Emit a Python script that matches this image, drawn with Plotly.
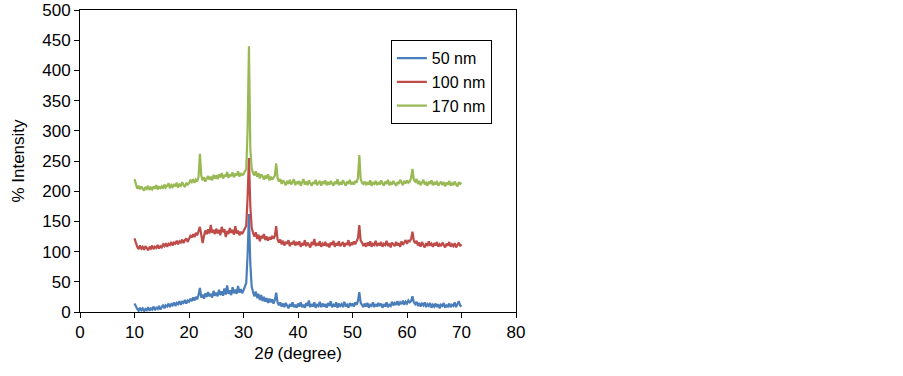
import plotly.graph_objects as go

two_theta = [round(10 + 0.25 * i, 2) for i in range(241)]

nm50 = [14, 9, 5, 2, 7, 3, 6, 1, 5, 3, 8, 2, 6, 4, 9, 3, 7, 5, 10, 4,
        8, 12, 6, 11, 9, 14, 8, 13, 11, 16, 10, 15, 13, 18, 12, 17, 15, 20, 14, 19,
        17, 22, 18, 24, 19, 25, 21, 28, 40, 24, 29, 22, 31, 25, 33, 26, 30, 24, 35, 27,
        32, 26, 37, 28, 34, 27, 39, 29, 44, 30, 36, 28, 41, 31, 37, 30, 43, 32, 38, 31,
        36, 42, 48, 95, 162, 80, 42, 33, 26, 34, 23, 30, 20, 28, 18, 25, 17, 23, 15, 22,
        16, 21, 14, 20, 32, 16, 11, 16, 9, 14, 8, 15, 10, 6, 13, 9, 16, 8, 12, 7,
        14, 9, 16, 8, 12, 7, 15, 10, 19, 8, 13, 9, 16, 7, 12, 10, 17, 8, 14, 9,
        13, 7, 15, 10, 18, 8, 12, 9, 16, 7, 14, 10, 13, 8, 17, 9, 12, 7, 15, 10,
        14, 9, 16, 12, 18, 33, 15, 12, 8, 14, 9, 15, 7, 12, 10, 16, 8, 13, 9, 15,
        10, 14, 7, 13, 9, 16, 8, 12, 10, 17, 11, 15, 12, 18, 11, 16, 13, 19, 12, 17,
        14, 19, 16, 18, 26, 16, 13, 17, 10, 15, 9, 14, 11, 16, 8, 13, 10, 15, 7, 12,
        9, 14, 8, 13, 6, 12, 10, 15, 7, 11, 9, 14, 8, 12, 10, 16, 8, 13, 18, 11,
        9]

nm100 = [122, 114, 108, 104, 110, 105, 108, 103, 109, 106, 102, 108, 105, 110, 104, 108, 106, 111, 105, 109,
         107, 112, 109, 114, 108, 113, 111, 116, 110, 115, 113, 118, 112, 117, 115, 120, 114, 119, 122, 116,
         121, 126, 123, 129, 124, 131, 127, 135, 141, 128, 114, 126, 135, 129, 137, 130, 144, 131, 136, 129,
         138, 130, 136, 127, 141, 132, 137, 124, 134, 129, 139, 131, 136, 128, 142, 130, 135, 127, 133, 129,
         134, 139, 143, 190, 255, 175, 140, 131, 125, 132, 121, 128, 117, 126, 122, 129, 119, 125, 118, 124,
         120, 126, 121, 126, 142, 120, 115, 120, 112, 118, 110, 116, 113, 119, 109, 115, 112, 118, 110, 116,
         111, 117, 108, 114, 110, 119, 109, 115, 112, 107, 116, 111, 121, 109, 114, 110, 117, 108, 113, 110,
         116, 109, 113, 107, 115, 111, 118, 108, 114, 110, 117, 109, 112, 116, 108, 114, 111, 119, 109, 115,
         111, 117, 112, 116, 122, 144, 118, 115, 109, 114, 108, 115, 110, 117, 108, 113, 111, 118, 109, 114,
         110, 116, 108, 113, 111, 118, 109, 114, 107, 115, 112, 109, 116, 110, 114, 108, 117, 111, 115, 119,
         113, 118, 117, 121, 133, 118, 114, 118, 110, 115, 108, 116, 111, 107, 114, 109, 117, 110, 113, 108,
         114, 110, 116, 108, 112, 109, 115, 111, 107, 113, 110, 116, 108, 112, 109, 114, 107, 111, 115, 109,
         112]

nm170 = [220, 212, 204, 209, 203, 208, 205, 201, 207, 204, 209, 202, 206, 203, 208, 204, 210, 203, 207, 205,
         208, 204, 211, 206, 209, 213, 205, 210, 207, 212, 208, 214, 206, 211, 209, 215, 210, 207, 214, 211,
         213, 218, 215, 220, 214, 219, 216, 224, 262, 226, 218, 223, 216, 221, 225, 219, 224, 218, 227, 221,
         226, 220, 228, 223, 230, 221, 227, 224, 232, 222, 228, 225, 231, 223, 229, 226, 233, 224, 230, 227,
         228, 233, 236, 300, 440, 270, 238, 230, 226, 233, 224, 230, 221, 228, 225, 219, 226, 221, 228, 218,
         224, 219, 222, 226, 246, 222, 216, 220, 212, 218, 214, 210, 217, 212, 219, 211, 215, 220, 210, 216,
         212, 217, 209, 214, 220, 211, 216, 210, 218, 213, 209, 215, 212, 219, 210, 214, 217, 209, 216, 212,
         218, 210, 214, 211, 217, 213, 209, 216, 212, 220, 210, 215, 211, 218, 213, 209, 216, 212, 219, 211,
         215, 211, 217, 214, 222, 260, 220, 214, 212, 216, 210, 215, 211, 218, 209, 214, 212, 217, 210, 215,
         211, 218, 213, 209, 216, 212, 219, 210, 214, 211, 217, 213, 209, 215, 212, 219, 214, 210, 217, 213,
         218, 214, 216, 222, 237, 219, 216, 220, 212, 217, 210, 215, 219, 211, 214, 209, 216, 212, 218, 210,
         214, 211, 217, 209, 213, 216, 210, 215, 208, 214, 211, 217, 209, 213, 210, 216, 211, 208, 215, 212,
         214]

series = [("50 nm", nm50, "#4A7EBB"), ("100 nm", nm100, "#BE4B48"), ("170 nm", nm170, "#98B954")]

x_ticks = [0, 10, 20, 30, 40, 50, 60, 70, 80]
y_ticks = [0, 50, 100, 150, 200, 250, 300, 350, 400, 450, 500]

fig = go.Figure()
for name, vals, col in series:
    fig.add_trace(go.Scatter(x=two_theta, y=vals, mode="lines", name=name,
                             line=dict(color=col, width=2.2)))

font = dict(family="Liberation Sans, Arial, sans-serif", size=17, color="black")
legend_font = dict(family="Liberation Sans, Arial, sans-serif", size=16, color="black")
axis_common = dict(showline=True, linecolor="black", linewidth=1, mirror=True,
                   ticks="outside", ticklen=5, tickcolor="black", showgrid=False,
                   zeroline=False, tickfont=font, automargin=False)

fig.update_layout(
    width=903, height=376,
    margin=dict(l=80, r=387, t=10, b=64),
    paper_bgcolor="white", plot_bgcolor="white",
    font=font,
    showlegend=True,
    legend=dict(x=0.713, y=0.90, xanchor="left", yanchor="top",
                bordercolor="black", borderwidth=1, bgcolor="white",
                font=legend_font, itemwidth=30, tracegroupgap=0),
    xaxis=dict(range=[0, 80], tickvals=x_ticks, ticktext=[str(v) for v in x_ticks],
               title=dict(text="2<i>θ</i> (degree)", font=font, standoff=5), **axis_common),
    yaxis=dict(range=[0, 500], tickvals=y_ticks, ticktext=[str(v) for v in y_ticks],
               title=dict(text="% Intensity", font=font, standoff=13), **axis_common),
)

fig.write_html("out.html", config={"displayModeBar": False},
               post_script="document.body.style.margin='0';document.body.style.overflow='hidden';")
